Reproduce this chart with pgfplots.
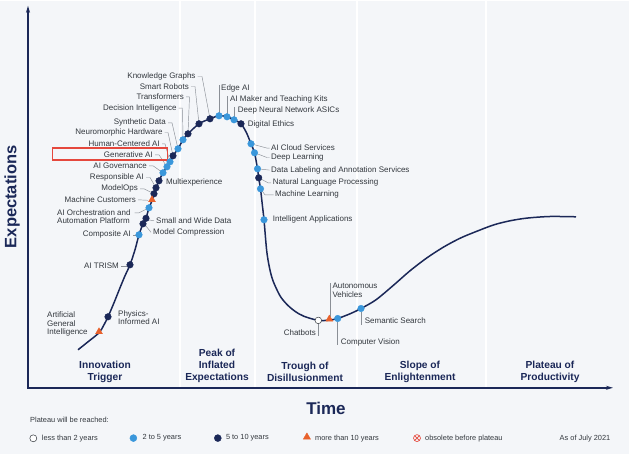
\documentclass[border=0pt]{standalone}
\usepackage{pgfplots}
\pgfplotsset{compat=1.18}
\usepackage{fontspec}
\setmainfont{Liberation Sans}
\usetikzlibrary{arrows.meta}
\usetikzlibrary{plotmarks}
\definecolor{navy}{HTML}{1B2858}
\definecolor{lblue}{HTML}{3A97DB}
\definecolor{orng}{HTML}{E8612C}
\definecolor{bgc}{HTML}{F4F6F9}
\definecolor{txt}{HTML}{33383E}
\definecolor{redbox}{HTML}{E5483D}
\definecolor{ldr}{HTML}{8A8F96}
\tikzset{
  lab/.style={font=\fontsize{8}{8.4}\selectfont, text=txt, inner sep=0pt},
  leg/.style={font=\fontsize{7.4}{8.4}\selectfont, text=txt, inner sep=0pt},
  phase/.style={font=\fontsize{10.2}{11.9}\selectfont\bfseries, text=navy, inner sep=0pt, align=center},
  leader/.style={draw=ldr, line width=0.45pt},
}
\begin{document}
\begin{tikzpicture}
\begin{axis}[width=629pt, height=453pt, scale only axis,
  xmin=0, xmax=629, ymin=0, ymax=453, y dir=reverse,
  hide axis, clip=false]
% background and phase separators
\fill[bgc] (axis cs:0,0) rectangle (axis cs:629,453);
\draw[white, line width=1.6pt] (axis cs:180,0) -- (axis cs:180,386);
\draw[white, line width=1.6pt] (axis cs:255,0) -- (axis cs:255,386);
\draw[white, line width=1.6pt] (axis cs:357,0) -- (axis cs:357,386);
\draw[white, line width=1.6pt] (axis cs:486,0) -- (axis cs:486,386);
% axes
\draw[navy, line width=1.4pt, line join=miter, {Stealth[length=7pt,width=4pt]}-{Stealth[length=7pt,width=4pt]}]
  (axis cs:28,5) -- (axis cs:28,387) -- (axis cs:613,387);
% hype curve
\addplot[navy, line width=1.5pt, smooth, tension=0.5] coordinates {
(78,349) (88,341) (99,332) (104,324) (108,316) (114,302) (120,287) (125,275)
(130,264) (135,249) (139,234) (143,223) (146,217.5) (149,207) (152,200)
(154,193) (156,187) (159,180) (163,172) (167,166) (170,161) (173,155)
(178,148) (183,139) (188,133) (199,123) (210,118) (219,115) (227,116)
(234,119) (241,123) (246.5,132) (251,143) (254.5,152) (257.5,168)
(258.7,177) (260.5,188) (262.2,203) (264,219) (266.7,250) (269.5,267)
(273,280) (280,295) (287,303.7) (295,310.5) (304,315.5) (318.3,319.6)
(329.3,319.3) (337.7,317.7) (350,313) (361,307.7) (376,299) (394,284)
(410,270) (427,257) (444,246) (461,237) (478,230) (494,224) (510,220)
(527,217.3) (550,215.7) (576,216)
};
% leader lines, left side
\draw[leader] (axis cs:197.5,75.7) -- (axis cs:202,75.7) -- (axis cs:210,118);
\draw[leader] (axis cs:191,85.7) -- (axis cs:195,85.7) -- (axis cs:199,123);
\draw[leader] (axis cs:186,96) -- (axis cs:189.5,96) -- (axis cs:188,133);
\draw[leader] (axis cs:178.5,107.3) -- (axis cs:182.5,107.3) -- (axis cs:183,139);
\draw[leader] (axis cs:168,122) -- (axis cs:172,122) -- (axis cs:178,148);
\draw[leader] (axis cs:164.5,131.7) -- (axis cs:168,131.7) -- (axis cs:173,155);
\draw[leader] (axis cs:162,143) -- (axis cs:165,143) -- (axis cs:170,161);
\draw[leader] (axis cs:155,154) -- (axis cs:159,154) -- (axis cs:167,166);
\draw[leader] (axis cs:149,165) -- (axis cs:153,165) -- (axis cs:163,172);
\draw[leader] (axis cs:146,176.7) -- (axis cs:150,176.7) -- (axis cs:156,187);
\draw[leader] (axis cs:140,188) -- (axis cs:144,188) -- (axis cs:154,193);
\draw[leader] (axis cs:138,199) -- (axis cs:148,199.5);
\draw[leader] (axis cs:134.5,212) -- (axis cs:139,212) -- (axis cs:149,207);
\draw[leader] (axis cs:133,234) -- (axis cs:136,234);
\draw[leader] (axis cs:121,265) -- (axis cs:127,265);
\draw[leader] (axis cs:148,219) -- (axis cs:154,220);
\draw[leader] (axis cs:145,224) -- (axis cs:151,231.5);
% leader lines, peak and slide
\draw[leader] (axis cs:219,112) -- (axis cs:219,84);
\draw[leader] (axis cs:227.3,113) -- (axis cs:227.3,95);
\draw[leader] (axis cs:234.5,116) -- (axis cs:234.5,106);
\draw[leader] (axis cs:251,143) -- (axis cs:267,147.3) -- (axis cs:269.5,147.3);
\draw[leader] (axis cs:254.5,152) -- (axis cs:267,156.7) -- (axis cs:269.5,156.7);
\draw[leader] (axis cs:257.5,168) -- (axis cs:269.5,169.3);
\draw[leader] (axis cs:258.7,177) -- (axis cs:268,182) -- (axis cs:271,182);
\draw[leader] (axis cs:260.5,188) -- (axis cs:265,194) -- (axis cs:273.5,194);
% leader lines, trough
\draw[leader] (axis cs:330,316) -- (axis cs:330,282.7);
\draw[leader] (axis cs:318.3,323.5) -- (axis cs:318.3,335);
\draw[leader] (axis cs:337.5,321) -- (axis cs:337.5,344);
\draw[leader] (axis cs:361,311) -- (axis cs:361,324);
% markers: 2 to 5 years
\addplot[only marks, mark=*, mark size=3.3pt, mark options={fill=lblue, draw=lblue}] coordinates {
(139,234) (149,207) (163,172) (167,166) (170,161) (178,148) (183,139)
(219,115) (227,116) (234,119) (251,143) (254.5,152) (257.5,168) (260.5,188)
(264,219) (337.7,317.7) (361,307.7)
};
% markers: 5 to 10 years
\addplot[only marks, mark=*, mark size=3.3pt, mark options={fill=navy, draw=navy}] coordinates {
(108,316) (130,264) (143,223) (146,217.5) (154,193) (156,187) (159,180)
(173,155) (188,133) (199,123) (210,118) (241,123) (258.7,177)
};
% markers: more than 10 years
\addplot[only marks, mark=triangle*, mark size=4pt, mark options={fill=orng, draw=orng}] coordinates {
(99,331) (152,199) (329.3,318.3)
};
% markers: less than 2 years
\addplot[only marks, mark=*, mark size=3.3pt, mark options={fill=white, draw=txt, line width=0.5pt}] coordinates {
(318.3,319.6)
};
% red highlight box
\draw[redbox, line width=1.2pt] (axis cs:52.7,147.3) rectangle (axis cs:167.7,159.3);
% labels left
\node[lab, anchor=east] at (axis cs:195.7,75.7) {Knowledge Graphs};
\node[lab, anchor=east] at (axis cs:189,85.7) {Smart Robots};
\node[lab, anchor=east] at (axis cs:184,96) {Transformers};
\node[lab, anchor=east] at (axis cs:176.7,107.3) {Decision Intelligence};
\node[lab, anchor=east] at (axis cs:166,122) {Synthetic Data};
\node[lab, anchor=east] at (axis cs:162.7,131.7) {Neuromorphic Hardware};
\node[lab, anchor=east] at (axis cs:160,143) {Human-Centered AI};
\node[lab, anchor=east] at (axis cs:153,154) {Generative AI};
\node[lab, anchor=east] at (axis cs:147,165) {AI Governance};
\node[lab, anchor=east] at (axis cs:144,176.7) {Responsible AI};
\node[lab, anchor=east] at (axis cs:138,188) {ModelOps};
\node[lab, anchor=east] at (axis cs:136,199) {Machine Customers};
\node[lab, anchor=west, align=left] at (axis cs:57,216) {AI Orchestration and\\Automation Platform};
\node[lab, anchor=east] at (axis cs:131,234) {Composite AI};
\node[lab, anchor=east] at (axis cs:119,265) {AI TRISM};
\node[lab, anchor=west, align=left] at (axis cs:47,323.5) {Artificial\\General\\Intelligence};
\node[lab, anchor=west] at (axis cs:166,182) {Multiexperience};
\node[lab, anchor=west] at (axis cs:156,220) {Small and Wide Data};
\node[lab, anchor=west] at (axis cs:153,232) {Model Compression};
\node[lab, anchor=west, align=left] at (axis cs:118,317) {Physics-\\Informed AI};
% labels peak / slide
\node[lab, anchor=west] at (axis cs:221,87.7) {Edge AI};
\node[lab, anchor=west] at (axis cs:230,98.7) {AI Maker and Teaching Kits};
\node[lab, anchor=west] at (axis cs:237.7,109.3) {Deep Neural Network ASICs};
\node[lab, anchor=west] at (axis cs:247.7,123.3) {Digital Ethics};
\node[lab, anchor=west] at (axis cs:271,147.3) {AI Cloud Services};
\node[lab, anchor=west] at (axis cs:271,156.7) {Deep Learning};
\node[lab, anchor=west] at (axis cs:271,169.3) {Data Labeling and Annotation Services};
\node[lab, anchor=west] at (axis cs:272.7,182) {Natural Language Processing};
\node[lab, anchor=west] at (axis cs:275,194) {Machine Learning};
\node[lab, anchor=west] at (axis cs:272.7,219) {Intelligent Applications};
% labels trough
\node[lab, anchor=west, align=left] at (axis cs:332.3,289.5) {Autonomous\\Vehicles};
\node[lab, anchor=east] at (axis cs:316,331.4) {Chatbots};
\node[lab, anchor=west] at (axis cs:340.7,342) {Computer Vision};
\node[lab, anchor=west] at (axis cs:364.7,319.7) {Semantic Search};
% phase names
\node[phase] at (axis cs:105,371) {Innovation\\Trigger};
\node[phase] at (axis cs:217,365) {Peak of\\Inflated\\Expectations};
\node[phase] at (axis cs:305,371) {Trough of\\Disillusionment};
\node[phase] at (axis cs:420,371) {Slope of\\Enlightenment};
\node[phase] at (axis cs:550,371) {Plateau of\\Productivity};
% axis titles
\node[font=\fontsize{17}{18}\selectfont\bfseries, text=navy, inner sep=0pt] at (axis cs:326,407.7) {Time};
\node[font=\fontsize{16.5}{18}\selectfont\bfseries, text=navy, inner sep=0pt, rotate=90] at (axis cs:12,196) {Expectations};
% legend
\node[leg, anchor=west] at (axis cs:30,419) {Plateau will be reached:};
\addplot[only marks, mark=*, mark size=3.5pt, mark options={fill=white, draw=txt, line width=0.5pt}] coordinates {(33.3,437.5)};
\addplot[only marks, mark=*, mark size=3.5pt, mark options={fill=lblue, draw=lblue}] coordinates {(133.4,437.3)};
\addplot[only marks, mark=*, mark size=3.5pt, mark options={fill=navy, draw=navy}] coordinates {(217.8,437.3)};
\addplot[only marks, mark=triangle*, mark size=4.2pt, mark options={fill=orng, draw=orng}] coordinates {(306.9,436.3)};
\addplot[only marks, mark=otimes, mark size=3.5pt, mark options={draw=redbox, line width=0.6pt}] coordinates {(417,437.3)};
\node[leg, anchor=west] at (axis cs:41.7,437.3) {less than 2 years};
\node[leg, anchor=west] at (axis cs:142.4,437.3) {2 to 5 years};
\node[leg, anchor=west] at (axis cs:225.8,437.3) {5 to 10 years};
\node[leg, anchor=west] at (axis cs:315,437.3) {more than 10 years};
\node[leg, anchor=west] at (axis cs:425,437.3) {obsolete before plateau};
\node[leg, anchor=east] at (axis cs:610.5,437.3) {As of July 2021};
\end{axis}
\end{tikzpicture}
\end{document}
